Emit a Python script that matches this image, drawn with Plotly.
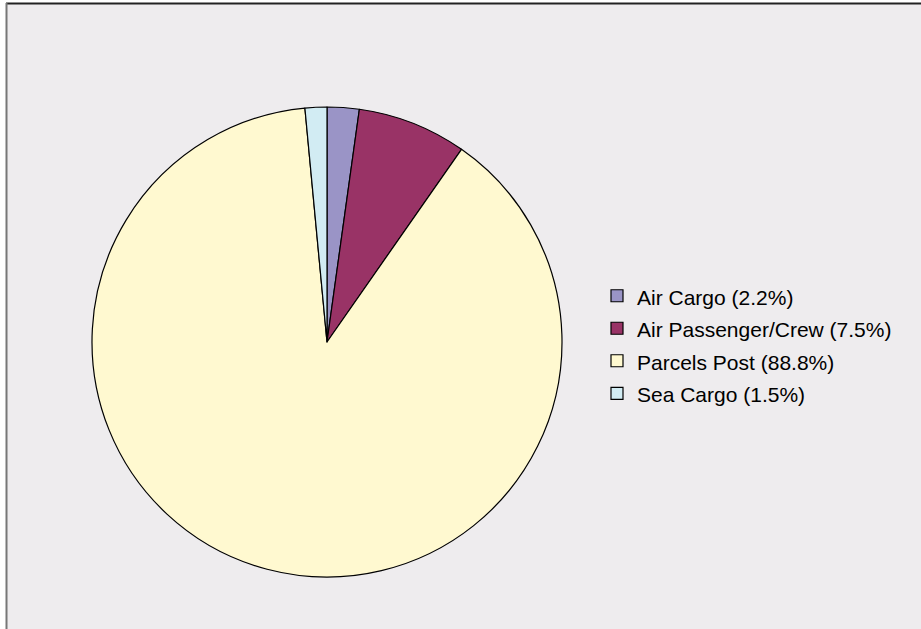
import plotly.graph_objects as go

W, H = 921, 629

categories = ["Air Cargo", "Air Passenger/Crew", "Parcels Post", "Sea Cargo"]
shares = [2.2, 7.5, 88.8, 1.5]
colors = ["#9A94C6", "#993366", "#FFF9D0", "#D2ECF3"]
legend_labels = [f"{c} ({v}%)" for c, v in zip(categories, shares)]

fig = go.Figure()
fig.add_trace(go.Pie(
    labels=[f"<span style='font-size:21px'>{t}</span>" for t in legend_labels],
    values=shares,
    sort=False,
    direction="clockwise",
    rotation=0,
    textinfo="none",
    hoverinfo="label",
    marker=dict(colors=colors, line=dict(color="black", width=1.2)),
    domain=dict(x=[92 / W, 562 / W], y=[(H - 577) / H, (H - 107) / H]),
))

bg = "#EEECEE"
fig.update_layout(
    width=W, height=H,
    margin=dict(l=0, r=0, t=0, b=0),
    paper_bgcolor="white",
    plot_bgcolor=bg,
    font=dict(family="Liberation Sans, Arial, sans-serif", size=16, color="black"),
    showlegend=True,
    legend=dict(
        x=597 / W, xanchor="left",
        y=1 - 345 / H, yanchor="middle",
        bgcolor="rgba(0,0,0,0)",
        font=dict(size=22.7),
        itemclick=False,
    ),
    shapes=[
        dict(type="rect", xref="paper", yref="paper", layer="below",
             x0=6 / W, x1=1.0, y0=0, y1=1 - 3 / H,
             fillcolor=bg, line=dict(width=0)),
        dict(type="line", xref="paper", yref="paper", layer="below",
             x0=6 / W, x1=1.0, y0=1 - 3.5 / H, y1=1 - 3.5 / H,
             line=dict(color="#222222", width=2)),
        dict(type="line", xref="paper", yref="paper", layer="below",
             x0=6.5 / W, x1=6.5 / W, y0=0, y1=1 - 3 / H,
             line=dict(color="#777777", width=2)),
    ],
)

fig.write_html(
    "out.html",
    config={"displayModeBar": False},
    post_script="document.body.style.margin='0';document.body.style.overflow='hidden';",
)
